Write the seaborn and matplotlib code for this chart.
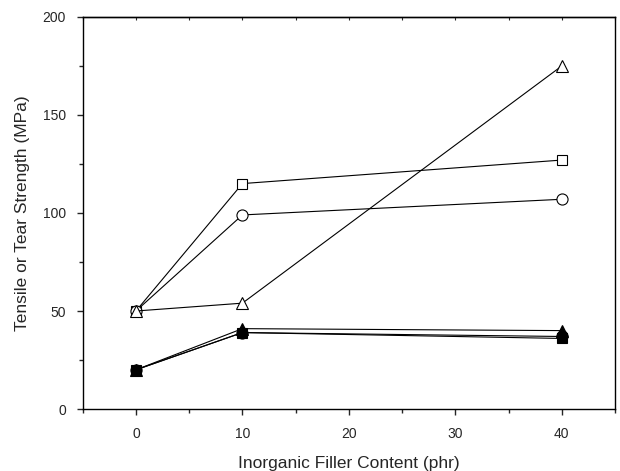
import numpy as np
import pandas as pd
import matplotlib
matplotlib.use("Agg")
import matplotlib.pyplot as plt
import seaborn as sns
from matplotlib.ticker import MultipleLocator

# Data
filler = [0, 10, 40]
open_square = [50, 115, 127]
open_circle = [50, 99, 107]
open_triangle = [50, 54, 175]
filled_triangle = [20, 41, 40]
filled_circle = [20, 39, 37]
filled_square = [20, 39, 36]

series = [
    ("open_square", open_square, "s", "white"),
    ("open_circle", open_circle, "o", "white"),
    ("open_triangle", open_triangle, "^", "white"),
    ("filled_circle", filled_circle, "o", "black"),
    ("filled_square", filled_square, "s", "black"),
    ("filled_triangle", filled_triangle, "^", "black"),
]

sns.set_style("ticks")
plt.rcParams['font.family'] = ['Liberation Sans', 'DejaVu Sans']

fig = plt.figure(figsize=(6.2, 4.71), dpi=100)
ax = fig.add_axes([0.1334, 0.1316, 0.8586, 0.8324])

for name, vals, mk, fc in series:
    df = pd.DataFrame({"x": filler, "y": vals})
    sns.lineplot(data=df, x="x", y="y", ax=ax, color="black", linewidth=0.8,
                 marker=mk, markersize=8 if mk != "s" else 7,
                 markerfacecolor=fc, markeredgecolor="black",
                 markeredgewidth=0.8, legend=False)

ax.set_xlim(-5, 45)
ax.set_ylim(0, 200)
ax.xaxis.set_major_locator(MultipleLocator(10))
ax.xaxis.set_minor_locator(MultipleLocator(5))
ax.yaxis.set_major_locator(MultipleLocator(50))
ax.yaxis.set_minor_locator(MultipleLocator(25))

ax.tick_params(which="major", direction="out", length=4, width=1, labelsize=10)
ax.tick_params(which="minor", direction="out", length=3, width=1)
ax.tick_params(axis="x", which="major", pad=9)
ax.tick_params(axis="y", which="major", pad=8)
for side in ["top", "right", "left", "bottom"]:
    ax.spines[side].set_visible(True)
    ax.spines[side].set_linewidth(1)
    ax.spines[side].set_color("black")

# small inward ticks on the top spine
top = ax.secondary_xaxis("top")
top.xaxis.set_major_locator(MultipleLocator(10))
top.xaxis.set_minor_locator(MultipleLocator(5))
top.tick_params(which="both", direction="in", length=2, width=0.8, labeltop=False)
top.spines["top"].set_linewidth(1)

ax.set_xlabel("Inorganic Filler Content (phr)", fontsize=12.5, labelpad=11)
ax.set_ylabel("Tensile or Tear Strength (MPa)", fontsize=12.5, labelpad=9)

fig.savefig("out.png", dpi=100)
